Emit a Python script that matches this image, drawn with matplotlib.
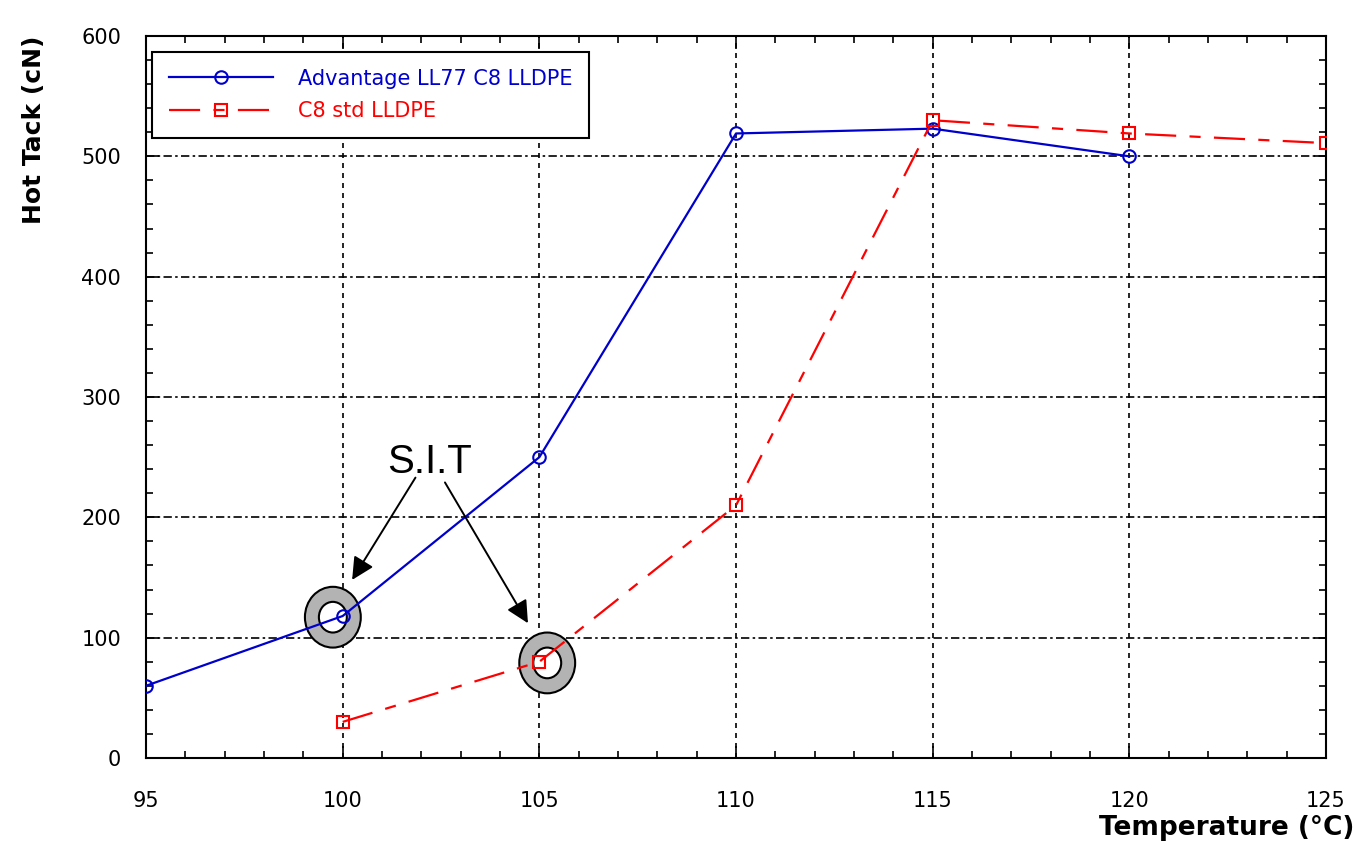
import matplotlib.pyplot as plt
from matplotlib.patches import Ellipse
from matplotlib.ticker import MultipleLocator

temp_ll77 = [95, 100, 105, 110, 115, 120]
tack_ll77 = [60, 118, 250, 519, 523, 500]

temp_std = [100, 105, 110, 115, 120, 125]
tack_std = [30, 80, 210, 530, 519, 511]

# seal initiation temperature points (circled)
sit_x = [99.75, 105.2]
sit_y = [117, 79]

plt.rcParams['font.family'] = ['DejaVu Sans']

fig = plt.figure(figsize=(13.57, 8.51), dpi=100)
ax = fig.add_axes([0.1076, 0.1093, 0.8696, 0.8484])

ax.plot(temp_ll77, tack_ll77, color='#0000cc', lw=1.6, marker='o', ms=9,
        mfc='none', mec='#0000cc', mew=1.5, label='Advantage LL77 C8 LLDPE', zorder=3)
ax.plot(temp_std, tack_std, color='#ff0000', lw=1.6, marker='s', ms=9,
        mfc='none', mec='#ff0000', mew=1.5, dashes=(14, 6, 5, 6),
        label='C8 std LLDPE', zorder=3)

for x, y in zip(sit_x, sit_y):
    ax.add_patch(Ellipse((x, y), 1.42, 50.5, facecolor='#b3b3b3',
                         edgecolor='black', lw=1.5, zorder=2.5))
    ax.add_patch(Ellipse((x, y), 0.71, 25.5, facecolor='white',
                         edgecolor='black', lw=1.5, zorder=2.5))

ax.text(102.2, 246, 'S.I.T', fontsize=29, family='Liberation Sans',
        ha='center', va='center')
ax.annotate('', xy=(100.24, 148), xytext=(101.85, 233),
            arrowprops=dict(arrowstyle='-|>', color='black', lw=1.4,
                            mutation_scale=34, shrinkA=0, shrinkB=0))
ax.annotate('', xy=(104.71, 112), xytext=(102.6, 229),
            arrowprops=dict(arrowstyle='-|>', color='black', lw=1.4,
                            mutation_scale=34, shrinkA=0, shrinkB=0))

ax.set_xlim(95, 125)
ax.set_ylim(0, 600)
ax.xaxis.set_major_locator(MultipleLocator(5))
ax.xaxis.set_minor_locator(MultipleLocator(1))
ax.yaxis.set_major_locator(MultipleLocator(100))
ax.yaxis.set_minor_locator(MultipleLocator(20))
ax.tick_params(which='both', direction='in', top=True, right=True, width=1.2)
ax.tick_params(which='major', length=9, labelsize=15)
ax.tick_params(which='minor', length=5)
ax.tick_params(axis='x', pad=24)
ax.tick_params(axis='y', pad=18)

ax.xaxis.grid(True, color='black', lw=1.2, ls=(0, (3, 3)))
ax.yaxis.grid(True, color='black', lw=1.2, ls=(0, (5, 2, 1.5, 2)))
for s in ax.spines.values():
    s.set_linewidth(1.5)

ax.set_ylabel('Hot Tack (cN)', fontsize=18, fontweight='bold')
ax.yaxis.set_label_coords(-0.085, 0.87)
fig.text(0.998, 0.012, 'Temperature (°C)', fontsize=19, fontweight='bold',
         ha='right', va='bottom')

leg = ax.legend(loc='upper left', bbox_to_anchor=(0.005, 0.978), fontsize=15,
                fancybox=False, framealpha=1, edgecolor='black',
                handlelength=5, borderpad=0.8, labelspacing=0.6,
                handletextpad=1.2, borderaxespad=0)
leg.get_frame().set_linewidth(1.5)
for t, c in zip(leg.get_texts(), ['#0000cc', '#ff0000']):
    t.set_color(c)

plt.savefig('out.png')
